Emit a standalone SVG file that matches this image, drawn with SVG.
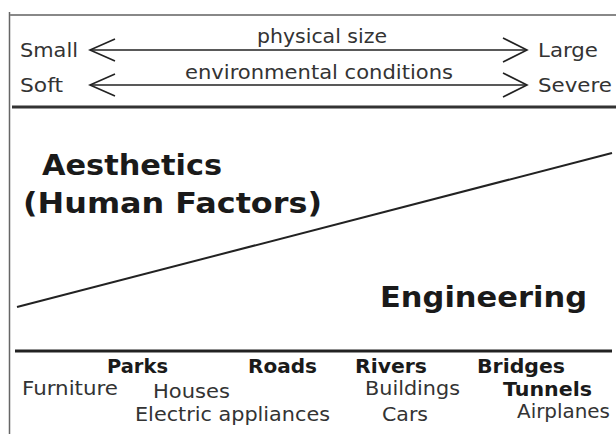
<svg xmlns="http://www.w3.org/2000/svg" width="616" height="434" viewBox="0 0 616 434">
<style>
text{font-family:"DejaVu Sans",Verdana,sans-serif;fill:#222;}
.s{font-size:20px;fill:#333;}
.b{font-size:20px;font-weight:bold;fill:#1a1a1a;}
.L{font-size:28.5px;font-weight:bold;fill:#1a1a1a;}
.ln{stroke:#222;fill:none;}
.ch{stroke:#222;fill:none;stroke-width:1.6;}
</style>
<rect width="616" height="434" fill="#fff"/>
<g id="frame">
<line x1="9.5" y1="12" x2="9.5" y2="434" stroke="#666" stroke-width="1.5"/>
<line x1="10" y1="15" x2="616" y2="15" stroke="#888" stroke-width="2"/>
<line x1="12" y1="107" x2="616" y2="107" stroke="#333" stroke-width="3"/>
<line x1="15" y1="351" x2="612" y2="351" stroke="#222" stroke-width="3"/>
</g>
<g id="connectors">
<line class="ln" x1="90" y1="50" x2="527" y2="50" stroke-width="1.6"/>
<polyline class="ch" points="115,39 90,50 115,61"/>
<polyline class="ch" points="503,38 527,50 503,62"/>
<line class="ln" x1="90" y1="85" x2="527" y2="85" stroke-width="1.6"/>
<polyline class="ch" points="115,74 90,85 115,96"/>
<polyline class="ch" points="503,73 527,85 503,97"/>
<line class="ln" x1="17" y1="307" x2="612" y2="153" stroke-width="2"/>
</g>
<g id="scale-labels">
<text class="s" x="20" y="57" textLength="58" lengthAdjust="spacingAndGlyphs">Small</text>
<text class="s" x="538" y="57" textLength="60" lengthAdjust="spacingAndGlyphs">Large</text>
<text class="s" x="257" y="43" textLength="130" lengthAdjust="spacingAndGlyphs">physical size</text>
<text class="s" x="20" y="92" textLength="43" lengthAdjust="spacingAndGlyphs">Soft</text>
<text class="s" x="538" y="92" textLength="74" lengthAdjust="spacingAndGlyphs">Severe</text>
<text class="s" x="185" y="79" textLength="268" lengthAdjust="spacingAndGlyphs">environmental conditions</text>
</g>
<g id="aesthetics">
<text class="L" x="42" y="175" textLength="180" lengthAdjust="spacingAndGlyphs">Aesthetics</text>
<text class="L" x="23" y="213" textLength="299" lengthAdjust="spacingAndGlyphs">(Human Factors)</text>
</g>
<g id="engineering">
<text class="L" x="380" y="307" textLength="207" lengthAdjust="spacingAndGlyphs">Engineering</text>
</g>
<g id="examples">
<text class="b" x="107" y="373" textLength="61" lengthAdjust="spacingAndGlyphs">Parks</text>
<text class="b" x="248" y="373" textLength="69" lengthAdjust="spacingAndGlyphs">Roads</text>
<text class="b" x="355" y="373" textLength="72" lengthAdjust="spacingAndGlyphs">Rivers</text>
<text class="b" x="477" y="373" textLength="88" lengthAdjust="spacingAndGlyphs">Bridges</text>
<text class="s" x="22" y="395" textLength="96" lengthAdjust="spacingAndGlyphs">Furniture</text>
<text class="s" x="153" y="398" textLength="77" lengthAdjust="spacingAndGlyphs">Houses</text>
<text class="s" x="365" y="395" textLength="95" lengthAdjust="spacingAndGlyphs">Buildings</text>
<text class="b" x="503" y="396" textLength="89" lengthAdjust="spacingAndGlyphs">Tunnels</text>
<text class="s" x="135" y="421" textLength="195" lengthAdjust="spacingAndGlyphs">Electric appliances</text>
<text class="s" x="382" y="421" textLength="46" lengthAdjust="spacingAndGlyphs">Cars</text>
<text class="s" x="517" y="418" textLength="93" lengthAdjust="spacingAndGlyphs">Airplanes</text>
</g>
</svg>
